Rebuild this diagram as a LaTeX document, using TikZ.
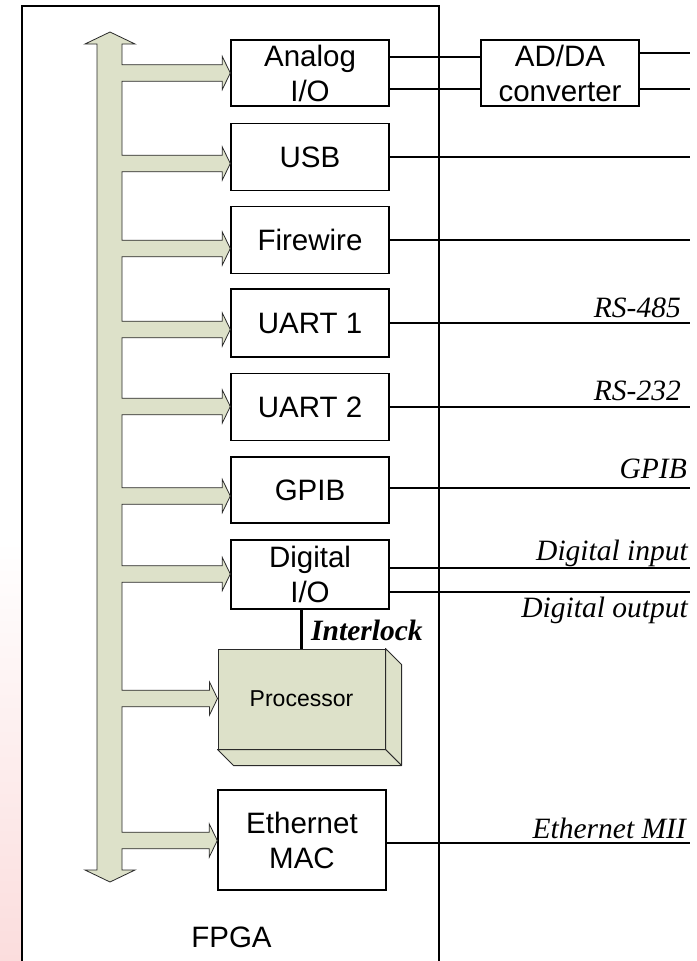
\documentclass[tikz,border=0pt]{standalone}
\usepackage{fontspec}
\setmainfont{Liberation Serif}
\newfontfamily\arialfont{Liberation Sans}
\usetikzlibrary{calc}
\definecolor{busfill}{HTML}{DDE1C9}
\definecolor{busedge}{HTML}{2A2A2A}
\definecolor{slidepink}{HTML}{FBDDDD}

\begin{document}
\begin{tikzpicture}[x=1pt,y=-1pt,
  blk/.style={draw=black,line width=1.4pt,fill=white,minimum width=158pt,
    inner sep=0pt,align=center,font=\arialfont\fontsize{29.5}{35}\selectfont},
  procbox/.style={draw=busedge,line width=1pt,fill=busfill,minimum width=167pt,
    minimum height=100pt,inner sep=0pt,font=\arialfont\fontsize{23}{27}\selectfont},
  sig/.style={line width=2pt},
  lbl/.style={font=\itshape\fontsize{29.5}{32}\selectfont,anchor=base east,inner sep=0pt}]
\useasboundingbox (0,0) rectangle (696,961);
% slide background
\fill[white] (0,0) rectangle (696,961);
\shade[top color=white,bottom color=slidepink] (0,540) rectangle (23,961);

% FPGA outline
\draw[line width=1.4pt,fill=white] (22,6) rectangle (439,975);
\node[font=\arialfont\fontsize{29.5}{35}\selectfont] (fpga) at (231.5,937) {FPGA};

% peripheral blocks
\node[blk,minimum height=66pt] (analog)   at (310,73)    {Analog\\I/O};
\node[blk,minimum height=66pt] (adda)     at (560,73)    {AD/DA\\converter};
\node[blk,minimum height=67pt] (usb)      at (310,157)   {USB};
\node[blk,minimum height=67pt] (firewire) at (310,240)   {Firewire};
\node[blk,minimum height=68pt] (uart1)    at (310,323)   {UART 1};
\node[blk,minimum height=67pt] (uart2)    at (310,407)   {UART 2};
\node[blk,minimum height=66pt] (gpib)     at (310,490)   {GPIB};
\node[blk,minimum height=69pt] (digital)  at (310,574.5) {Digital\\I/O};
\node[blk,minimum width=168pt,minimum height=100pt] (ethernet) at (302,840) {Ethernet\\MAC};

% processor drawn as a raised block
\node[procbox] (processor) at (301.5,699) {Processor};
\draw[draw=busedge,line width=1pt,fill=busfill,line join=round]
  (processor.north east) -- ++(16,16) -- ($(processor.south east)+(16,16)$)
  -- (processor.south east) -- cycle;
\draw[draw=busedge,line width=1pt,fill=busfill,line join=round]
  (processor.south west) -- (processor.south east) -- ++(16,16)
  -- ($(processor.south west)+(16,16)$) -- cycle;

% internal bus with branches to every block
\path[fill=busfill,draw=busedge,line width=0.8pt]
  (110,32) -- (135,44) -- (122,44)
  \foreach \c/\n in {73/analog,163.5/usb,248.5/firewire,329.5/uart1,406.5/uart2,
                     496/gpib,574/digital,698.5/processor,840.5/ethernet}{
    -- (122,\c-8.3)
    -- ($(\n.west|-0,\c)+(-8,-8.3)$) -- ($(\n.west|-0,\c)+(-8,-16.5)$)
    -- (\n.west|-0,\c)
    -- ($(\n.west|-0,\c)+(-8,16.5)$) -- ($(\n.west|-0,\c)+(-8,8.3)$)
    -- (122,\c+8.3)
  }
  -- (122,870) -- (135,870) -- (110,882) -- (85,870) -- (97,870)
  -- (97,44) -- (85,44) -- cycle;

% external signal lines
\coordinate (edge) at (690,0);
\draw[sig] ([yshift=16pt]analog.east) -- ([yshift=16pt]adda.west);
\draw[sig] ([yshift=-16pt]analog.east) -- ([yshift=-16pt]adda.west);
\draw[sig] ([yshift=20pt]adda.east) coordinate (a1) -- (a1 -| edge);
\draw[sig] ([yshift=-16pt]adda.east) coordinate (a2) -- (a2 -| edge);
\draw[sig] (usb.east) -- (usb.east -| edge);
\draw[sig] (firewire.east) -- (firewire.east -| edge);
\draw[sig] (uart1.east) -- (uart1.east -| edge);
\draw[sig] (uart2.east) -- (uart2.east -| edge);
\draw[sig] ([yshift=2pt]gpib.east) coordinate (g1) -- (g1 -| edge);
\draw[sig] ([yshift=6.5pt]digital.east) coordinate (d1) -- (d1 -| edge);
\draw[sig] ([yshift=-17.5pt]digital.east) coordinate (d2) -- (d2 -| edge);
\draw[sig] ([yshift=-3pt]ethernet.east) coordinate (e1) -- (e1 -| edge);

% line labels
\node[lbl] (l485) at (681,317) {RS-485};
\node[lbl] (l232) at (681,400) {RS-232};
\node[lbl] (lgpib) at (687,478) {GPIB};
\node[lbl] (ldin) at (688,560) {Digital input};
\node[lbl] (ldout) at (688,617) {Digital output};
\node[lbl] (leth) at (686,838) {Ethernet MII};

% interlock between digital I/O and processor
\draw[line width=2.5pt] (processor.north) -- (processor.north |- digital.south);
\node[font=\bfseries\itshape\fontsize{29.5}{32}\selectfont,anchor=base west,inner sep=0pt]
  (interlock) at (311,640) {Interlock};
\end{tikzpicture}
\end{document}
